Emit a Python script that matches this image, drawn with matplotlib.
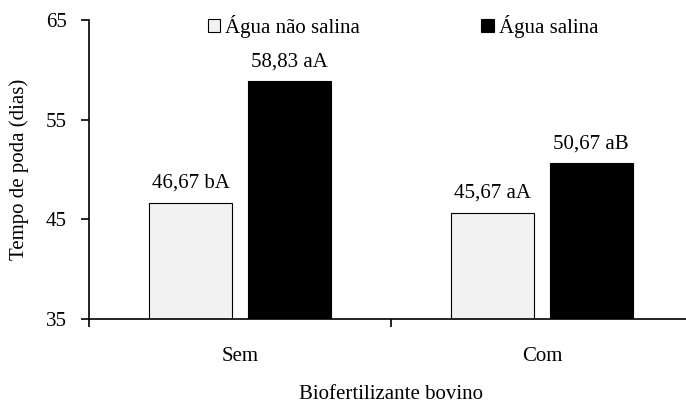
import matplotlib
matplotlib.use("Agg")
import matplotlib.pyplot as plt
import numpy as np

categories = ["Sem", "Com"]
series_names = ["Água não salina", "Água salina"]
nao_salina = [46.67, 45.67]
salina = [58.83, 50.67]
labels_nao = ["46,67 bA", "45,67 aA"]
labels_sal = ["58,83 aA", "50,67 aB"]
yticks = [35, 45, 55, 65]

plt.rcParams['font.family'] = ['Liberation Serif', 'DejaVu Serif']
plt.rcParams['font.size'] = 15

fig = plt.figure(figsize=(6.86, 4.03), dpi=100)
ax = fig.add_axes([89/686, 84/403, (693-89)/686, (319-20)/403])

x = np.arange(len(categories))
w = 0.275
off = 0.1625
b1 = ax.bar(x - off, nao_salina, w, color='#f2f2f2', edgecolor='black', linewidth=0.8,
            label=series_names[0], zorder=2)
b2 = ax.bar(x + off, salina, w, color='black', edgecolor='black', linewidth=0.8,
            label=series_names[1], zorder=2)

for rect, lab in zip(b1, labels_nao):
    ax.annotate(lab, (rect.get_x() + rect.get_width()/2, rect.get_height()),
                xytext=(0, 7), textcoords='offset points', ha='center', va='bottom')
for rect, lab in zip(b2, labels_sal):
    ax.annotate(lab, (rect.get_x() + rect.get_width()/2, rect.get_height()),
                xytext=(0, 7), textcoords='offset points', ha='center', va='bottom')

ax.set_xlim(-0.5, 1.5)
ax.set_ylim(35, 65)
ax.set_yticks(yticks)
ax.set_yticklabels([str(t) for t in yticks])
ax.set_xticks(x)
ax.set_xticklabels(categories)
ax.tick_params(axis='x', length=0, pad=20)
ax.set_xticks([-0.5, 0.5, 1.5], minor=True)
ax.tick_params(axis='x', which='minor', length=6, width=1.2, direction='out')
ax.tick_params(axis='y', length=6, width=1.2, direction='out', pad=10)

for s in ['top', 'right']:
    ax.spines[s].set_visible(False)
for s in ['left', 'bottom']:
    ax.spines[s].set_linewidth(1.2)

ax.set_ylabel("Tempo de poda (dias)", labelpad=12)
ax.set_xlabel("Biofertilizante bovino", labelpad=14)

leg = ax.legend(loc='upper center', bbox_to_anchor=(0.52, 1.08), ncol=2, frameon=False,
                handlelength=0.6, handleheight=0.6, handletextpad=0.25, columnspacing=5.8)

fig.savefig("out.png", dpi=100)
